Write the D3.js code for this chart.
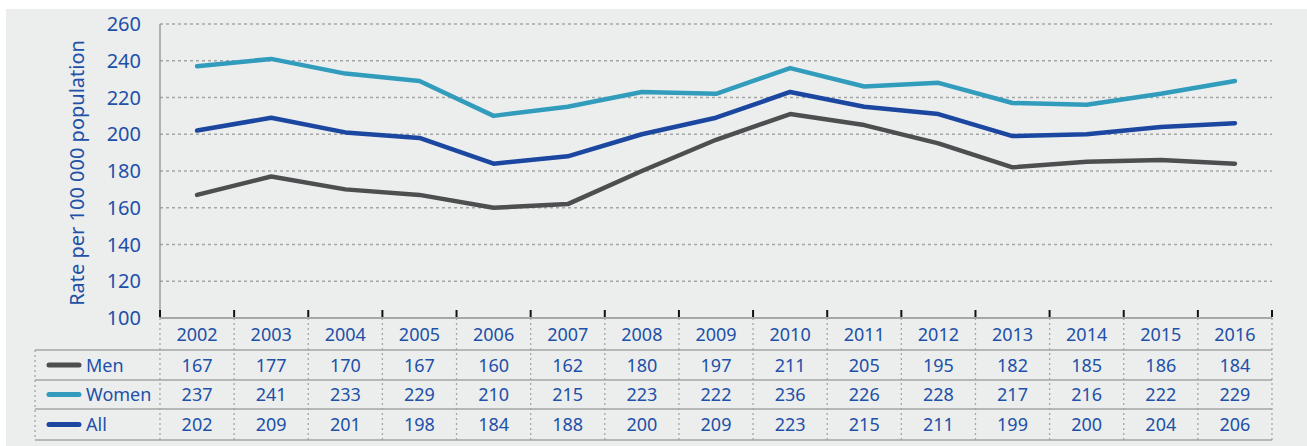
<!DOCTYPE html>
<html>
<head>
<meta charset="utf-8">
<script src="https://cdn.jsdelivr.net/npm/d3@7"></script>
<style>
    body { margin: 0; background: #fff; }
    svg text { font-family: "Noto Sans", sans-serif; fill: #2150a8; }
</style>
</head>
<body>
<div id="chart"></div>
<script>
var years = [2002, 2003, 2004, 2005, 2006, 2007, 2008, 2009, 2010, 2011, 2012, 2013, 2014, 2015, 2016];
var men = [167, 177, 170, 167, 160, 162, 180, 197, 211, 205, 195, 182, 185, 186, 184];
var women = [237, 241, 233, 229, 210, 215, 223, 222, 236, 226, 228, 217, 216, 222, 229];
var all = [202, 209, 201, 198, 184, 188, 200, 209, 223, 215, 211, 199, 200, 204, 206];
var yTicks = [100, 120, 140, 160, 180, 200, 220, 240, 260];

var series = [
    { name: "Men", values: men, color: "#4d4e50" },
    { name: "Women", values: women, color: "#319cbc" },
    { name: "All", values: all, color: "#1b47a1" }
];

var W = 1307, H = 446;
var plotLeft = 160, plotRight = 1272, plotTop = 24, axisY = 318;
var tableLeft = 35, rowH = [318, 350, 380, 409, 440];

var svg = d3.select("#chart").append("svg").attr("width", W).attr("height", H);

svg.append("rect").attr("x", 6).attr("y", 9).attr("width", W - 6).attr("height", H - 9).attr("fill", "#eceeed");

var x = d3.scaleBand().domain(years).range([plotLeft, plotRight]);
var y = d3.scaleLinear().domain([100, 260]).range([axisY, plotTop]);

// grid
svg.append("g").selectAll("line")
    .data(yTicks.filter(function (d) { return d > 100; }))
    .enter().append("line")
    .attr("x1", plotLeft).attr("x2", plotRight)
    .attr("y1", function (d) { return y(d); }).attr("y2", function (d) { return y(d); })
    .attr("stroke", "#a3a5a6").attr("stroke-width", 1.3).attr("stroke-dasharray", "3,3");

// y axis labels
svg.append("g").selectAll("text")
    .data(yTicks).enter().append("text")
    .attr("x", 141).attr("y", function (d) { return y(d) + 7; })
    .attr("text-anchor", "end").attr("font-size", 20)
    .text(function (d) { return d; });

svg.append("text")
    .attr("transform", "translate(84," + ((plotTop + axisY) / 2 + 2) + ") rotate(-90)")
    .attr("text-anchor", "middle").attr("font-size", 20)
    .text("Rate per 100 000 population");

// axis lines
svg.append("line").attr("x1", plotLeft).attr("x2", plotLeft).attr("y1", plotTop).attr("y2", axisY)
    .attr("stroke", "#8e9091").attr("stroke-width", 1.3);

// table: horizontal lines
svg.append("line").attr("x1", plotLeft).attr("x2", plotRight).attr("y1", rowH[0]).attr("y2", rowH[0])
    .attr("stroke", "#8e9091").attr("stroke-width", 1.3);
svg.append("g").selectAll("line").data(rowH.slice(1)).enter().append("line")
    .attr("x1", tableLeft).attr("x2", plotRight)
    .attr("y1", function (d) { return d; }).attr("y2", function (d) { return d; })
    .attr("stroke", "#a3a5a6").attr("stroke-width", 1.3);

// table: vertical dotted lines
var bounds = years.map(function (d) { return x(d); }).concat([plotRight]);
svg.append("g").selectAll("line").data(bounds).enter().append("line")
    .attr("x1", function (d) { return d; }).attr("x2", function (d) { return d; })
    .attr("y1", rowH[0]).attr("y2", rowH[4])
    .attr("stroke", "#a3a5a6").attr("stroke-width", 1.3).attr("stroke-dasharray", "2,3");
svg.append("line").attr("x1", tableLeft).attr("x2", tableLeft).attr("y1", rowH[1]).attr("y2", rowH[4])
    .attr("stroke", "#a3a5a6").attr("stroke-width", 1.3).attr("stroke-dasharray", "2,3");

// tick marks
svg.append("g").selectAll("line").data(bounds).enter().append("line")
    .attr("x1", function (d) { return d; }).attr("x2", function (d) { return d; })
    .attr("y1", 310).attr("y2", 317)
    .attr("stroke", "#111").attr("stroke-width", 2);

// year labels
svg.append("g").selectAll("text").data(years).enter().append("text")
    .attr("x", function (d) { return x(d) + x.bandwidth() / 2; })
    .attr("y", (rowH[0] + rowH[1]) / 2 + 6.5)
    .attr("text-anchor", "middle").attr("font-size", 18)
    .text(function (d) { return d; });

// table rows
series.forEach(function (s, i) {
    var cy = (rowH[i + 1] + rowH[i + 2]) / 2;
    svg.append("line").attr("x1", 49).attr("x2", 79).attr("y1", cy).attr("y2", cy)
        .attr("stroke", s.color).attr("stroke-width", 5).attr("stroke-linecap", "round");
    svg.append("text").attr("x", 86).attr("y", cy + 6.5).attr("font-size", 18).text(s.name);
    svg.append("g").selectAll("text").data(s.values).enter().append("text")
        .attr("x", function (d, j) { return x(years[j]) + x.bandwidth() / 2; })
        .attr("y", cy + 6.5)
        .attr("text-anchor", "middle").attr("font-size", 18)
        .text(function (d) { return d; });
});

// lines
var line = d3.line()
    .x(function (d, j) { return x(years[j]) + x.bandwidth() / 2; })
    .y(function (d) { return y(d); });

svg.append("g").selectAll("path").data(series).enter().append("path")
    .attr("d", function (s) { return line(s.values); })
    .attr("fill", "none")
    .attr("stroke", function (s) { return s.color; })
    .attr("stroke-width", 4.5)
    .attr("stroke-linecap", "round")
    .attr("stroke-linejoin", "round");
</script>
</body>
</html>
